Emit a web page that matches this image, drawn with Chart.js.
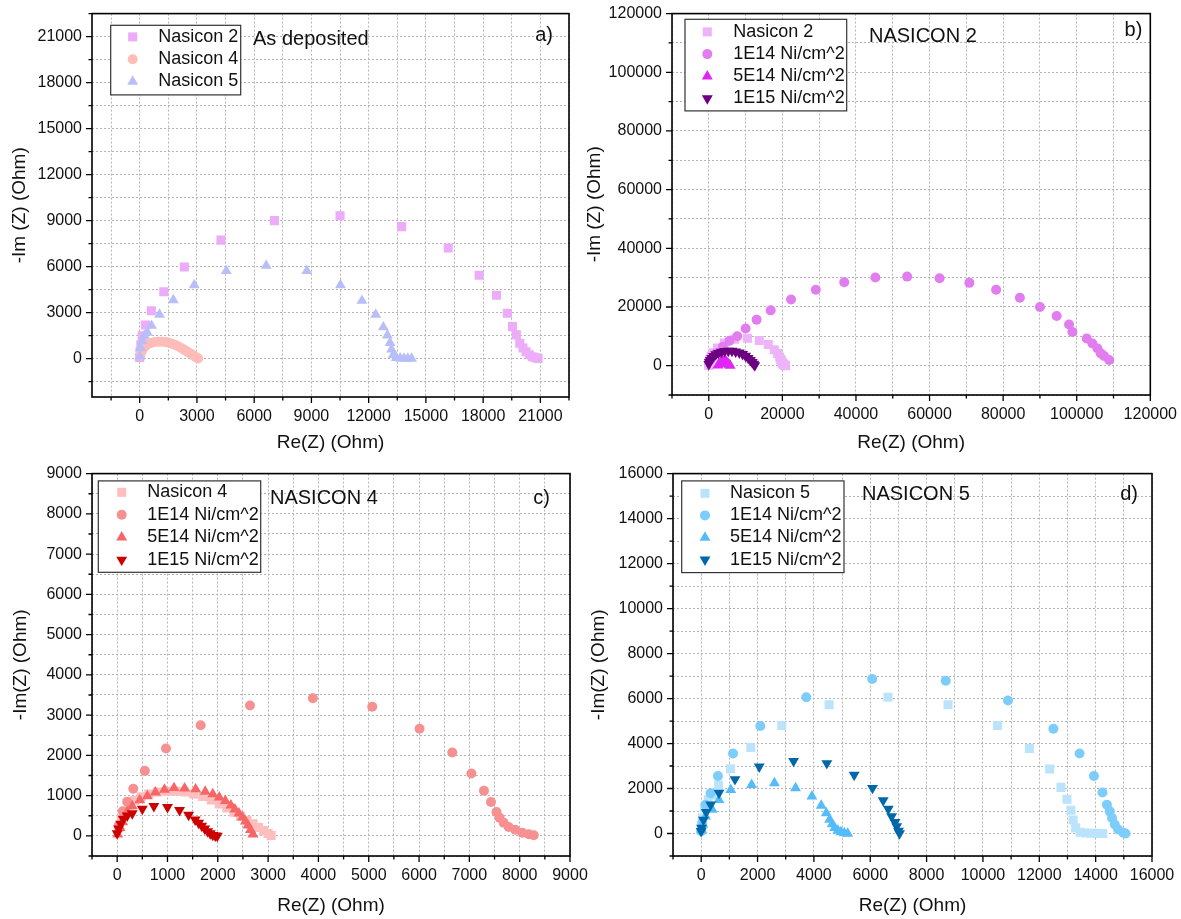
<!DOCTYPE html>
<html>
<head>
<meta charset="utf-8">
<title>Nasicon - Nyquist</title>
<script src="https://cdn.jsdelivr.net/npm/chart.js@4/dist/chart.umd.min.js"></script>
<style>
  html, body { margin: 0; padding: 0; background: #fff; }
  body { width: 1181px; height: 919px; position: relative; overflow: hidden; }
  canvas { position: absolute; }
</style>
</head>
<body>
<canvas id="pa" width="580" height="460" style="left:0;top:0"></canvas>
<canvas id="pb" width="601" height="460" style="left:580px;top:0"></canvas>
<canvas id="pc" width="610" height="459" style="left:0;top:460px"></canvas>
<canvas id="pd" width="601" height="459" style="left:580px;top:460px"></canvas>
<script>
// Datos: Re(Z) y -Im(Z) en Ohm

// as deposited
const nas2X = [0, 20, 60, 130, 300, 610, 1260, 2340, 4260, 7060, 10500, 13730, 16170, 17790, 18700, 19270, 19540, 19740, 19920, 20090, 20250, 20420, 20580, 20730, 20880];
const nas2Y = [80, 450, 900, 1500, 2200, 3130, 4360, 5980, 7730, 9000, 9320, 8610, 7210, 5440, 4140, 2960, 2090, 1550, 1010, 700, 450, 260, 130, 60, 20];
const nas4X = [30, 80, 150, 240, 350, 480, 630, 800, 980, 1160, 1340, 1520, 1700, 1870, 2030, 2180, 2320, 2450, 2580, 2700, 2810, 2910, 3000, 3060];
const nas4Y = [200, 420, 600, 760, 880, 970, 1040, 1090, 1110, 1110, 1090, 1040, 980, 890, 790, 690, 590, 490, 390, 300, 210, 130, 60, 10];
const nas5X = [0, 40, 120, 250, 400, 620, 1040, 1760, 2860, 4540, 6630, 8760, 10520, 11650, 12370, 12770, 12980, 13120, 13200, 13290, 13450, 13650, 13850, 14050, 14250];
const nas5Y = [150, 700, 1150, 1500, 1700, 2150, 2880, 3820, 4800, 5720, 6060, 5720, 4800, 3780, 2870, 2050, 1520, 1030, 600, 250, 60, 20, 10, 5, 0];

// NASICON 2 irradiado
const b14X = [450, 2000, 3820, 5640, 7730, 10000, 13000, 16820, 22360, 29090, 36820, 45270, 53910, 62730, 70820, 78090, 84550, 90000, 94550, 97910, 98820, 102730, 104270, 105640, 106550, 107450, 108820];
const b14Y = [1920, 4180, 6430, 8470, 10050, 12640, 15690, 18850, 22570, 25850, 28440, 30020, 30360, 29800, 28220, 25850, 23140, 19980, 16930, 14000, 11510, 9250, 7560, 5870, 4180, 3270, 1920];
const b5X = [2500, 2800, 3100, 3400, 3800, 4200, 4600, 4900, 5200, 5500, 5800];
const b5Y = [100, 500, 900, 1300, 1550, 1600, 1450, 1150, 750, 350, 50];
const b15X = [0, 150, 400, 800, 1300, 1900, 2600, 3400, 4300, 5300, 6300, 7300, 8300, 9200, 10000, 10700, 11300, 11800, 12200, 12500];
const b15Y = [500, 1200, 1900, 2600, 3200, 3800, 4300, 4700, 4950, 5050, 5000, 4800, 4400, 3900, 3300, 2600, 1900, 1200, 600, 100];

// NASICON 4 irradiado
const c14X = [30, 110, 200, 320, 550, 970, 1660, 2640, 3890, 5070, 6010, 6660, 7040, 7290, 7430, 7540, 7600, 7680, 7780, 7910, 8050, 8180, 8280];
const c14Y = [250, 610, 850, 1170, 1615, 2170, 2750, 3240, 3420, 3210, 2660, 2070, 1550, 1120, 840, 590, 450, 330, 220, 150, 80, 40, 15];
const c5X = [12, 60, 110, 200, 300, 450, 600, 760, 940, 1130, 1340, 1560, 1750, 1900, 2030, 2150, 2260, 2340, 2420, 2490, 2550, 2600, 2650, 2700];
const c5Y = [40, 200, 340, 600, 740, 890, 990, 1080, 1150, 1190, 1180, 1160, 1100, 1040, 960, 870, 760, 660, 560, 460, 360, 260, 150, 40];
const c15X = [0, 30, 70, 120, 200, 300, 500, 730, 1000, 1240, 1420, 1550, 1620, 1680, 1740, 1800, 1850, 1900, 1950, 1990];
const c15Y = [60, 180, 300, 420, 500, 560, 670, 740, 715, 640, 520, 400, 320, 250, 180, 110, 60, 20, 5, 0];

// NASICON 5 irradiado
const d14X = [0, 36, 155, 333, 595, 1130, 2100, 3730, 6070, 8680, 10890, 12500, 13430, 13940, 14240, 14400, 14500, 14580, 14680, 14800, 14980, 15060];
const d14Y = [100, 470, 1280, 1790, 2560, 3560, 4780, 6060, 6870, 6790, 5910, 4660, 3560, 2560, 1820, 1280, 985, 690, 400, 180, 30, 0];
const d5X = [20, 60, 157, 393, 632, 1050, 1790, 2600, 3350, 3930, 4260, 4440, 4560, 4650, 4740, 4850, 4960, 5080, 5200];
const d5Y = [150, 400, 760, 1060, 1500, 1940, 2160, 2240, 2020, 1650, 1240, 910, 620, 420, 250, 130, 60, 20, 0];
const d15X = [0, 14, 80, 180, 336, 632, 1200, 2060, 3280, 4460, 5430, 6080, 6460, 6640, 6760, 6880, 6940, 7000, 7040];
const d15Y = [100, 250, 600, 950, 1280, 1800, 2410, 2970, 3220, 3120, 2600, 2020, 1470, 1090, 760, 500, 320, 120, 0];

const FONT = '"Liberation Sans", Arial, Helvetica, sans-serif';

// forma de cada marcador
const MARK = {
  sq: { pointStyle: 'rect', pointRadius: 6.4, pointRotation: 0 },
  ci: { pointStyle: 'circle', pointRadius: 5, pointRotation: 0 },
  up: { pointStyle: 'triangle', pointRadius: 6.3, pointRotation: 0 },
  dn: { pointStyle: 'triangle', pointRadius: 6.3, pointRotation: 180 }
};

function serie(label, xs, ys, mark, color, i) {
  return Object.assign({
    label: label,
    data: xs.map((x, k) => ({ x: x, y: ys[k] })),
    pointBackgroundColor: color,
    pointBorderWidth: 0,
    showLine: false,
    order: -i
  }, MARK[mark]);
}

// marco, ticks, leyenda con caja y textos
const decoPanel = {
  id: 'decoPanel',
  afterDraw(chart, args, o) {
    const ctx = chart.ctx;
    const a = chart.chartArea;
    const sx = chart.scales.x, sy = chart.scales.y;
    ctx.save();
    ctx.strokeStyle = '#000';
    ctx.lineWidth = 1.3;
    ctx.beginPath();
    sx.ticks.forEach(t => {
      const px = sx.getPixelForValue(t.value);
      const len = t.value % o.xMajor === 0 ? 6 : 3.5;
      ctx.moveTo(px, a.bottom);
      ctx.lineTo(px, a.bottom + len);
    });
    sy.ticks.forEach(t => {
      const py = sy.getPixelForValue(t.value);
      const len = t.value % o.yMajor === 0 ? 6 : 3.5;
      ctx.moveTo(a.left, py);
      ctx.lineTo(a.left - len, py);
    });
    ctx.stroke();

    ctx.lineWidth = 1.6;
    ctx.strokeRect(a.left, a.top, a.right - a.left, a.bottom - a.top);

    // leyenda
    const L = o.legend;
    ctx.fillStyle = '#fff';
    ctx.fillRect(a.left + L.x, a.top + L.y, L.w, L.h);
    ctx.lineWidth = 1.2;
    ctx.strokeStyle = '#333';
    ctx.strokeRect(a.left + L.x, a.top + L.y, L.w, L.h);
    ctx.font = '18px ' + FONT;
    ctx.textBaseline = 'middle';
    ctx.textAlign = 'left';
    chart.data.datasets.forEach((ds, i) => {
      const y = a.top + L.row0 + i * L.rowH;
      ctx.fillStyle = ds.pointBackgroundColor;
      Chart.helpers.drawPoint(ctx, {
        pointStyle: ds.pointStyle, rotation: ds.pointRotation,
        radius: ds.pointRadius, borderWidth: 0
      }, a.left + L.mx, y);
      ctx.fillStyle = '#111';
      ctx.fillText(ds.label, a.left + L.tx, y);
    });

    // titulos dentro del panel
    ctx.font = '20px ' + FONT;
    ctx.fillStyle = '#111';
    o.notes.forEach(n => {
      if (n.rx !== undefined) {
        ctx.textAlign = 'right';
        ctx.fillText(n.text, a.right - n.rx, a.top + n.y);
      } else {
        ctx.textAlign = 'left';
        ctx.fillText(n.text, a.left + n.x, a.top + n.y);
      }
    });
    ctx.restore();
  }
};

function eje(horizontal, min, max, step, labelStep, title, titlePad, size) {
  return {
    type: 'linear',
    position: horizontal ? 'bottom' : 'left',
    min: min,
    max: max,
    afterFit: s => { if (horizontal) s.height = size; else s.width = size; },
    // ticks en multiplos del paso (menores) aunque min no lo sea
    afterBuildTicks: s => {
      const lista = [];
      for (let v = Math.ceil(min / step) * step; v <= max; v += step) lista.push({ value: v });
      s.ticks = lista;
    },
    ticks: {
      autoSkip: false,
      maxRotation: 0,
      padding: 4,
      color: '#111',
      font: { family: FONT, size: 16 },
      callback: v => (v % labelStep === 0 ? String(v) : '')
    },
    grid: { color: '#b4b4b4', lineWidth: 1, tickLength: 6, tickColor: 'rgba(0,0,0,0)' },
    border: { display: false, dash: [2, 2] },
    title: { display: true, text: title, color: '#111', font: { family: FONT, size: 19 }, padding: titlePad }
  };
}

function panel(id, p) {
  return new Chart(document.getElementById(id), {
    type: 'scatter',
    data: { datasets: p.datasets },
    options: {
      responsive: false,
      animation: false,
      events: [],
      layout: { padding: p.pad },
      plugins: {
        legend: { display: false },
        tooltip: { enabled: false },
        decoPanel: { xMajor: p.x[3], yMajor: p.y[3], legend: p.legend, notes: p.notes }
      },
      scales: {
        x: eje(true, p.x[0], p.x[1], p.x[2], p.x[3], 'Re(Z) (Ohm)', { top: 0, bottom: p.xPad }, p.xH),
        y: eje(false, p.y[0], p.y[1], p.y[2], p.y[3], p.yTitle, { top: p.yPad, bottom: 0 }, p.yW)
      }
    },
    plugins: [decoPanel]
  });
}

panel('pa', {
  datasets: [
    serie('Nasicon 2', nas2X, nas2Y, 'sq', 'rgb(236,172,250)', 0),
    serie('Nasicon 4', nas4X, nas4Y, 'ci', 'rgb(255,188,184)', 1),
    serie('Nasicon 5', nas5X, nas5Y, 'up', 'rgb(184,190,250)', 2)
  ],
  x: [-2500, 22500, 1500, 3000], y: [-2500, 22500, 1500, 3000],
  pad: { left: 0, top: 11, right: 11, bottom: 0 }, yW: 92, xH: 63, yPad: 8.6, xPad: 6,
  yTitle: '-Im (Z) (Ohm)',
  legend: { x: 18.7, y: 11.7, w: 130, h: 69.6, row0: 23.3, rowH: 22.3, mx: 40.7, tx: 66.3 },
  notes: [{ text: 'As deposited', x: 161, y: 26 }, { text: 'a)', rx: 16, y: 22 }]
});

panel('pb', {
  datasets: [
    serie('Nasicon 2', nas2X, nas2Y, 'sq', 'rgb(238,180,250)', 0),
    serie('1E14 Ni/cm^2', b14X, b14Y, 'ci', 'rgb(226,125,240)', 1),
    serie('5E14 Ni/cm^2', b5X, b5Y, 'up', 'rgb(224,38,246)', 2),
    serie('1E15 Ni/cm^2', b15X, b15Y, 'dn', 'rgb(108,0,128)', 3)
  ],
  x: [-10000, 120000, 10000, 20000], y: [-10000, 120000, 10000, 20000],
  pad: { left: 0, top: 11, right: 30, bottom: 0 }, yW: 92, xH: 65, yPad: 3, xPad: 6,
  yTitle: '-Im (Z) (Ohm)',
  legend: { x: 13, y: 5.7, w: 161.7, h: 91.6, row0: 18.3, rowH: 22.2, mx: 35.3, tx: 61.3 },
  notes: [{ text: 'NASICON 2', x: 197, y: 23 }, { text: 'b)', rx: 8, y: 17 }]
});

panel('pc', {
  datasets: [
    serie('Nasicon 4', nas4X, nas4Y, 'sq', 'rgb(255,190,190)', 0),
    serie('1E14 Ni/cm^2', c14X, c14Y, 'ci', 'rgb(247,145,145)', 1),
    serie('5E14 Ni/cm^2', c5X, c5Y, 'up', 'rgb(247,102,102)', 2),
    serie('1E15 Ni/cm^2', c15X, c15Y, 'dn', 'rgb(204,0,0)', 3)
  ],
  x: [-500, 9000, 500, 1000], y: [-500, 9000, 500, 1000],
  pad: { left: 0, top: 12, right: 40, bottom: 0 }, yW: 92, xH: 63, yPad: 9, xPad: 2,
  yTitle: '-Im(Z) (Ohm)',
  legend: { x: 6.3, y: 7.3, w: 162.4, h: 91.4, row0: 18.7, rowH: 22.5, mx: 29.7, tx: 55.3 },
  notes: [{ text: 'NASICON 4', x: 178, y: 25 }, { text: 'c)', rx: 20, y: 25 }]
});

panel('pd', {
  datasets: [
    serie('Nasicon 5', nas5X, nas5Y, 'sq', 'rgb(187,228,252)', 0),
    serie('1E14 Ni/cm^2', d14X, d14Y, 'ci', 'rgb(124,205,252)', 1),
    serie('5E14 Ni/cm^2', d5X, d5Y, 'up', 'rgb(84,188,250)', 2),
    serie('1E15 Ni/cm^2', d15X, d15Y, 'dn', 'rgb(0,104,170)', 3)
  ],
  x: [-1000, 16000, 1000, 2000], y: [-1000, 16000, 1000, 2000],
  pad: { left: 0, top: 12, right: 29, bottom: 0 }, yW: 93, xH: 63, yPad: 7, xPad: 2,
  yTitle: '-Im(Z) (Ohm)',
  legend: { x: 8.7, y: 7.3, w: 162.3, h: 91.7, row0: 19.7, rowH: 22.1, mx: 32, tx: 57 },
  notes: [{ text: 'NASICON 5', x: 189, y: 21 }, { text: 'd)', rx: 14, y: 21 }]
});
</script>
</body>
</html>
